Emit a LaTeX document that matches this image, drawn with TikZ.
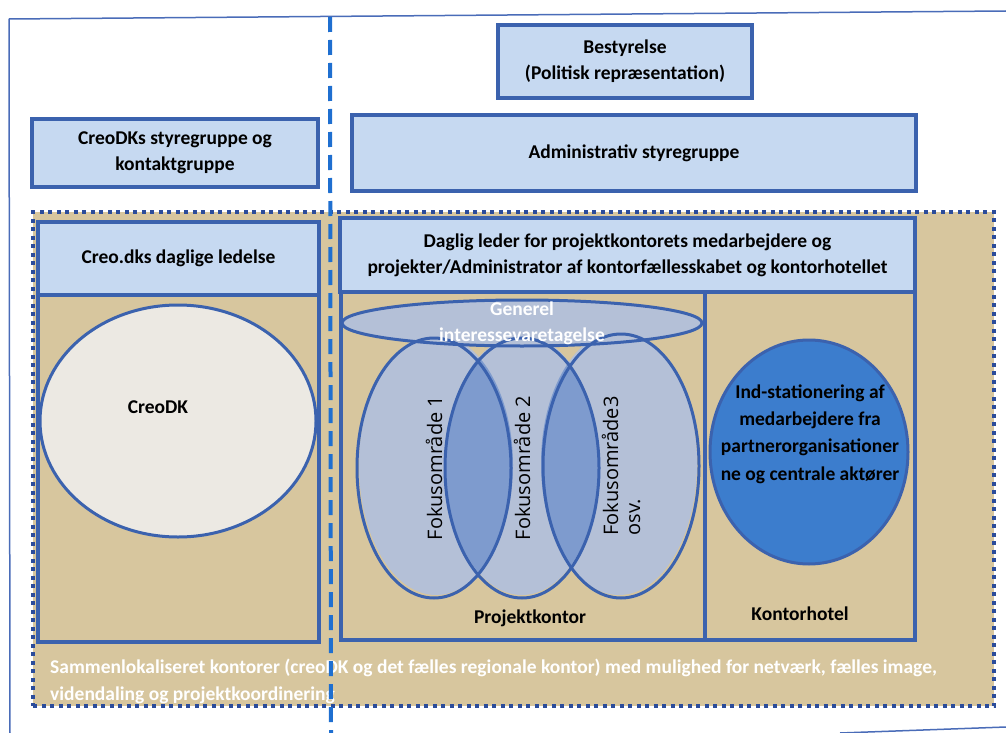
\documentclass[tikz,border=0pt]{standalone}
\usepackage{fontspec}
\setmainfont{Carlito}
\newfontfamily\fokusfont{Open Sans}
\usetikzlibrary{shapes.geometric}
\definecolor{boxfill}{HTML}{C6D9F1}
\definecolor{boxline}{HTML}{3B62AE}
\definecolor{tan}{HTML}{D7C69E}
\definecolor{fokusfill}{HTML}{B4C0D7}
\definecolor{fokusdobbelt}{HTML}{7E9BCE}
\definecolor{hotelfill}{HTML}{3C7DCD}
\definecolor{prikker}{HTML}{2B4C9B}
\definecolor{streg}{HTML}{1F6FD0}
\definecolor{ramme}{HTML}{4A6CB8}
\definecolor{creofill}{HTML}{ECE9E3}
\begin{document}
\begin{tikzpicture}[x=1pt,y=-1pt,
 box/.style={rectangle,draw=boxline,line width=3.5pt,fill=boxfill,align=center,inner sep=0pt,
  font=\bfseries\fontsize{19.5}{26}\selectfont},
 panel/.style={rectangle,draw=boxline,line width=3.5pt,inner sep=0pt},
 oval/.style={ellipse,draw=boxline,line width=3pt,inner sep=0pt},
 fokus/.style={oval,rotate=90,minimum width=260,minimum height=154,
  font=\fokusfont\fontsize{20}{22}\selectfont,align=left},
 tekst/.style={align=center,inner sep=0pt,font=\bfseries\fontsize{19.5}{26.5}\selectfont}]
\useasboundingbox (0,0) rectangle (1006,733);
% ramme
\draw[ramme,line width=1.5pt] (9,19) -- (1006,11);
\draw[ramme,line width=1.5pt] (9,19) -- (10,733);
\draw[ramme,line width=1.5pt] (840,733) -- (1006,727);
% top
\node (bestyrelse) [box,minimum width=254,minimum height=73] at (625,61.5) {Bestyrelse\\(Politisk repræsentation)};
\node (adm) [box,minimum width=564,minimum height=76] at (634,153) {Administrativ styregruppe};
\node (styregruppe) [box,minimum width=286,minimum height=68] at (175,153) {CreoDKs styregruppe og\\kontaktgruppe};
% faelles kontor
\node (samlet) [rectangle,fill=tan,draw=prikker,line width=4pt,dash pattern=on 4pt off 4.5pt,
 minimum width=961,minimum height=494] at (513.5,459) {};
\node (venstre) [panel,minimum width=281,minimum height=420] at (178.5,432) {};
\node (projekt) [panel,minimum width=364,minimum height=348] at (523,466) {};
\node (hotel) [panel,minimum width=210,minimum height=348] at (810,466) {};
\node (ledelse) [box,minimum width=281,minimum height=73] at (178.5,258.5) {Creo.dks daglige ledelse};
\node (leder) [box,minimum width=575,minimum height=74] at (627.5,255) {Daglig leder for projektkontorets medarbejdere og\\projekter/Administrator af kontorfællesskabet og kontorhotellet};
% creodk
\node (creodk) [oval,fill=creofill,minimum width=276,minimum height=232] at (178,421) {};
\node (creodktekst) [tekst] at (158,407) {CreoDK};
% fokusomraader
\fill[fokusfill] (522,323) ellipse [x radius=180,y radius=23];
\fill[fokusfill] (436,465) ellipse [x radius=77,y radius=130];
\fill[fokusfill] (522,465) ellipse [x radius=77,y radius=130];
\fill[fokusfill] (619,463) ellipse [x radius=78,y radius=132];
\begin{scope}
 \clip (436,465) ellipse [x radius=77,y radius=130];
 \fill[fokusdobbelt] (522,465) ellipse [x radius=77,y radius=130];
\end{scope}
\begin{scope}
 \clip (522,465) ellipse [x radius=77,y radius=130];
 \fill[fokusdobbelt] (619,463) ellipse [x radius=78,y radius=132];
\end{scope}
\node (fokus1) [fokus] at (434,468) {Fokusområde 1};
\node (fokus2) [fokus] at (522,468) {Fokusområde 2};
\node (fokus3) [fokus,minimum width=264,minimum height=156] at (621,466) {Fokusområde3\\osv.};
\node (generel) [oval,minimum width=360,minimum height=46] at (522,323) {};
\node (generelteskt) [tekst,text=white] at (522,323.5) {Generel\\interessevaretagelse};
\node (projekttekst) [tekst] at (530,618) {Projektkontor};
% kontorhotel
\node (indstat) [oval,fill=hotelfill,minimum width=198,minimum height=224] at (809,452) {};
\node (indstattekst) [tekst,font=\bfseries\fontsize{19.5}{27.3}\selectfont] at (810,434) {Ind-stationering af\\medarbejdere fra\\partnerorganisationer\\ne og centrale aktører};
\node (hoteltekst) [tekst] at (800,614) {Kontorhotel};
\node (samlettekst) [tekst,align=left,anchor=west,text=white] at (50,681.5) {Sammenlokaliseret kontorer (creoDK og det fælles regionale kontor) med mulighed for netværk, fælles image,\\videndaling og projektkoordinering};
% skillelinje
\draw[streg,line width=4pt,dash pattern=on 15pt off 8pt] (330,17) -- (331,733);
\end{tikzpicture}
\end{document}
